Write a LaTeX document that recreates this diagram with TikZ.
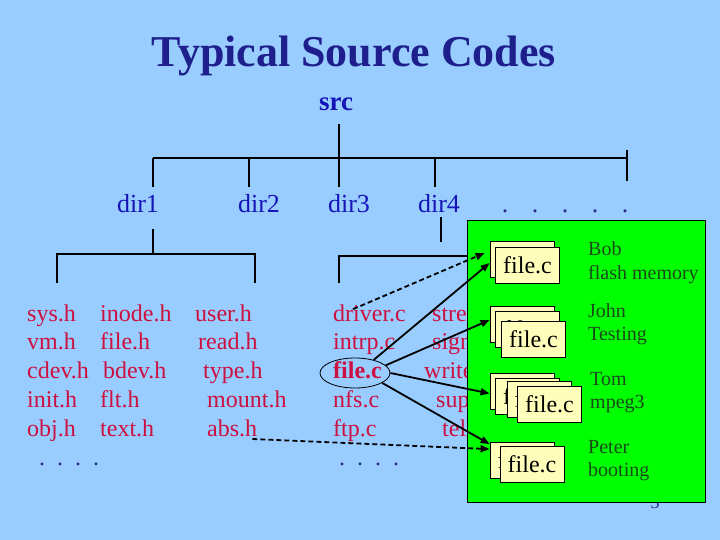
\documentclass[tikz,border=0pt]{standalone}
\usepackage{fontspec}
\setmainfont{Liberation Serif}
\usetikzlibrary{arrows.meta,shapes.geometric}
\definecolor{bgblue}{HTML}{99CCFF}
\definecolor{titleblue}{HTML}{1E1E8C}
\definecolor{dirblue}{HTML}{1414B8}
\definecolor{fred}{HTML}{CC1040}
\definecolor{boxgreen}{HTML}{00FF00}
\definecolor{cardy}{HTML}{FFFFBB}
\definecolor{labgreen}{HTML}{1A4A1A}
\definecolor{dotblue}{HTML}{2A2A90}
\tikzset{
  titlest/.style={font=\fontsize{44}{44}\selectfont\bfseries, text=titleblue, anchor=base, inner sep=0pt},
  srcst/.style={font=\fontsize{27}{27}\selectfont\bfseries, text=dirblue, anchor=base, inner sep=0pt},
  dirst/.style={font=\fontsize{26}{26}\selectfont, text=dirblue, anchor=base, inner sep=0pt},
  dotst/.style={font=\fontsize{26}{26}\selectfont, text=dotblue, anchor=base west, inner sep=0pt},
  fname/.style={font=\fontsize{24}{24}\selectfont, text=fred, anchor=base west, inner sep=0pt},
  tree/.style={line width=2.6pt, black},
  card/.style={draw=black, line width=0.8pt, fill=cardy, minimum width=64pt, minimum height=36pt, inner sep=0pt, font=\fontsize{24}{24}\selectfont},
  lab/.style={font=\fontsize{20}{20}\selectfont, text=labgreen, anchor=base west, inner sep=0pt},
  arr/.style={line width=1.8pt, -{Triangle[length=9pt,width=7pt]}},
  darr/.style={arr, dash pattern=on 5pt off 3pt}
}
\begin{document}
\begin{tikzpicture}[x=1pt,y=-1pt]
\fill[bgblue] (0,0) rectangle (720,540);
\useasboundingbox (0,0) rectangle (720,540);

% title and top tree
\node[titlest] (title) at (354,67) {Typical Source Codes};
\node[srcst] (src) at (336,111) {src};
\node[dirst] (dir1) at (138,213) {dir1};
\node[dirst] (dir2) at (259,213) {dir2};
\node[dirst] (dir3) at (349,213) {dir3};
\node[dirst] (dir4) at (439,213) {dir4};
\node[dotst] (more) at (501.7,213) {.\hspace{23.5pt}.\hspace{23.5pt}.\hspace{23.5pt}.\hspace{23.5pt}.};

\coordinate (s0) at (339,124);
\coordinate (s1) at (339,187);
\coordinate (h0) at (153,158);
\coordinate (h1) at (627,158);
\coordinate (d1t) at (153,187);
\coordinate (d2a) at (249,158);
\coordinate (d2t) at (249,187);
\coordinate (d4a) at (435,158);
\coordinate (d4t) at (435,187);
\coordinate (e0) at (627,150);
\coordinate (e1) at (627,181);
\draw[tree] (s0) -- (s1);
\draw[tree] (h0) -- (h1);
\draw[tree] (h0) -- (d1t);
\draw[tree] (d2a) -- (d2t);
\draw[tree] (d4a) -- (d4t);
\draw[tree] (e0) -- (e1);

% second level
\coordinate (a0) at (153,229);
\coordinate (a1) at (153,254);
\coordinate (aL) at (57,283);
\coordinate (aR) at (255,283);
\draw[tree] (a0) -- (a1);
\draw[tree] (aL) |- (a1) -| (aR);
\coordinate (b0) at (441,217);
\coordinate (b1) at (441,242);
\coordinate (cL) at (339,283);
\coordinate (cR) at (470,256);
\draw[tree] (b0) -- (b1);
\draw[tree] (cL) |- (cR);

% file names
\node[fname] (f11) at (27,321) {sys.h};
\node[fname] (f12) at (27,349) {vm.h};
\node[fname] (f13) at (27,378) {cdev.h};
\node[fname] (f14) at (27,407) {init.h};
\node[fname] (f15) at (27,436) {obj.h};
\node[fname] (f21) at (100,321) {inode.h};
\node[fname] (f22) at (100,349) {file.h};
\node[fname] (f23) at (103,378) {bdev.h};
\node[fname] (f24) at (100,407) {flt.h};
\node[fname] (f25) at (100,436) {text.h};
\node[fname] (f31) at (195,321) {user.h};
\node[fname] (f32) at (198,349) {read.h};
\node[fname] (f33) at (203,378) {type.h};
\node[fname] (f34) at (207,407) {mount.h};
\node[fname] (absh) at (207,436) {abs.h};
\node[fname] (drv) at (333,321) {driver.c};
\node[fname] (f42) at (333,349) {intrp.c};
\node[fname, font=\fontsize{24}{24}\selectfont\bfseries] (f43) at (333,378) {file.c};
\node[fname] (f44) at (333,407) {nfs.c};
\node[fname] (f45) at (333,436) {ftp.c};
\node[fname] (f51) at (432,321) {stream.c};
\node[fname] (f52) at (432,349) {signal.c};
\node[fname] (f53) at (424,378) {write.c};
\node[fname] (f54) at (436,407) {super.c};
\node[fname] (f55) at (442,436) {tell.c};
\node[dotst, font=\fontsize{24}{24}\selectfont] (dots1) at (39,465) {.\hspace{12pt}.\hspace{12pt}.\hspace{12pt}.};
\node[dotst, font=\fontsize{24}{24}\selectfont] (dots4) at (339,465) {.\hspace{12pt}.\hspace{12pt}.\hspace{12pt}.};
\node[draw, ellipse, line width=0.8pt, minimum width=70pt, minimum height=30pt, inner sep=0pt] (fc) at (355,373) {};

% page number
\node[font=\fontsize{18}{18}\selectfont, text=dotblue, anchor=base, inner sep=0pt] (pnum) at (655,508) {3};

% green box
\node[draw=black, line width=0.8pt, fill=boxgreen, minimum width=238pt, minimum height=282pt, inner sep=0pt] (gbox) at (586,361) {};

% cards
\node[card] (bo1) at (522,259) {file.c};
\node[card] (bo2) at (527.5,265.5) {file.c};
\node[card] (jo1) at (522,324) {file.c};
\node[card] (jo2) at (527.5,329) {file.c};
\node[card] (jo3) at (533.5,339.5) {file.c};
\node[card] (to1) at (522,391.5) {file.c};
\node[card] (to2) at (527.5,396) {file.c};
\node[card] (to3) at (539,399) {file.c};
\node[card] (to4) at (549.5,404.5) {file.c};
\node[card] (pe1) at (522,460.5) {file.c};
\node[card] (pe2) at (532,464) {file.c};

% labels
\node[lab] (bob) at (588,255) {Bob};
\node[lab] (bobd) at (588,279) {flash memory};
\node[lab] (john) at (588,317) {John};
\node[lab] (johnd) at (588,340) {Testing};
\node[lab] (tom) at (590,385) {Tom};
\node[lab] (tomd) at (590,408) {mpeg3};
\node[lab] (peter) at (588,453) {Peter};
\node[lab] (peterd) at (588,476) {booting};

% arrows
\coordinate (d0) at ([xshift=20pt,yshift=-5pt]drv.north west);
\draw[darr] (d0) -- ([xshift=-5pt,yshift=6pt]bo1.west);
\draw[arr] (fc.35) -- ([yshift=-4pt]bo1.west);
\draw[arr] (fc.14) -- ([yshift=4pt]jo1.west);
\draw[arr] (fc.0) -- ([yshift=-2pt]to1.west);
\draw[arr] (fc.-20) -- ([yshift=-2pt]pe1.north west);
\coordinate (ab0) at ([xshift=-5pt,yshift=-3pt]absh.base east);
\draw[darr] (ab0) -- ([yshift=-7pt]pe1.north west);
\end{tikzpicture}
\end{document}
